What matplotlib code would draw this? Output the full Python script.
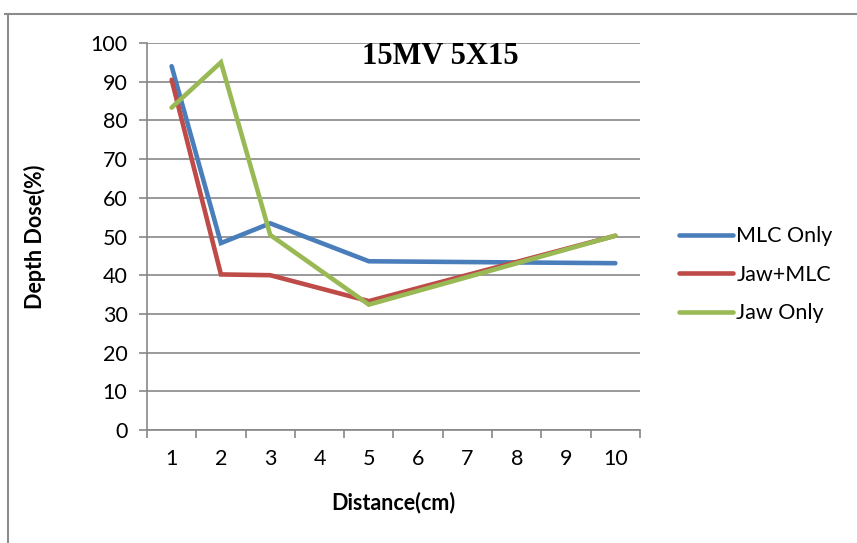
"""Depth dose vs distance, 15MV 5X15 field (Excel-style line chart)."""

import matplotlib
matplotlib.use("Agg")
import matplotlib.pyplot as plt
from matplotlib.lines import Line2D

# category axis labels (cm)
categories = ["1", "2", "3", "4", "5", "6", "7", "8", "9", "10"]

# measured points only exist at these categories; lines join across the gaps
measured_at = ["1", "2", "3", "5", "10"]
mlc_only = [94, 48.3, 53.4, 43.6, 43.1]
jaw_mlc = [90.5, 40.2, 40.0, 33.3, 50.2]
jaw_only = [83.3, 95.0, 50.4, 32.4, 50.2]

series = [
    ("MLC Only", mlc_only, "#4A7EBB"),
    ("Jaw+MLC", jaw_mlc, "#BE4B48"),
    ("Jaw Only", jaw_only, "#98B954"),
]

FONT = "Lato"
FS = 15.5
GRID = "#878787"

fig = plt.figure(figsize=(8.57, 5.43), dpi=100)
ax = fig.add_axes([0.1715, 0.2081, 0.5753, 0.7127])

xpos = [categories.index(c) for c in measured_at]
for name, values, color in series:
    ax.plot(xpos, values, color=color, linewidth=3.3, solid_capstyle="round",
            solid_joinstyle="miter", label=name, zorder=3)

ax.set_xlim(-0.5, len(categories) - 0.5)
ax.set_ylim(0, 100)
ax.set_yticks(range(0, 101, 10))
ax.set_xticks(range(len(categories)))
ax.set_xticklabels(categories)
ax.set_xticks([i - 0.5 for i in range(len(categories) + 1)], minor=True)
ax.tick_params(axis="x", which="major", length=0, pad=14)
ax.tick_params(axis="x", which="minor", length=6, width=1.2, color=GRID,
               direction="out")
ax.tick_params(axis="y", length=6, width=1.2, color=GRID, pad=8)
for lab in ax.get_xticklabels() + ax.get_yticklabels():
    lab.set_fontfamily(FONT)
    lab.set_fontsize(FS)

ax.grid(axis="y", color=GRID, linewidth=1.2, zorder=1)
for side in ("top", "right"):
    ax.spines[side].set_visible(False)
for side in ("left", "bottom"):
    ax.spines[side].set_color(GRID)
    ax.spines[side].set_linewidth(1.2)

ax.set_xlabel("Distance(cm)", fontfamily=FONT, fontweight="bold", fontsize=FS,
              labelpad=16)
ax.set_ylabel("Depth Dose(%)", fontfamily=FONT, fontweight="bold", fontsize=FS,
              labelpad=32)
ax.text(0.594, 0.965, "15MV 5X15", transform=ax.transAxes, ha="center",
        va="center", fontfamily="Liberation Serif", fontweight="bold",
        fontsize=22)

handles = [Line2D([], [], color=c, linewidth=3.3, solid_capstyle="round")
           for _, _, c in series]
fig.legend(handles, [s[0] for s in series], loc="center left",
           bbox_to_anchor=(0.770, 0.494), frameon=False, handlelength=2.5,
           handletextpad=0.15, labelspacing=0.85,
           prop={"family": FONT, "size": FS})

# chart-area border (only top and left edges visible in the crop)
fig.add_artist(Line2D([0.006, 1.0], [0.975, 0.975], transform=fig.transFigure,
                      color="#8C8C8C", linewidth=1.5))
fig.add_artist(Line2D([0.009, 0.009], [0.0, 0.975], transform=fig.transFigure,
                      color="#8C8C8C", linewidth=1.5))

fig.savefig("out.png", dpi=100, facecolor="white")
